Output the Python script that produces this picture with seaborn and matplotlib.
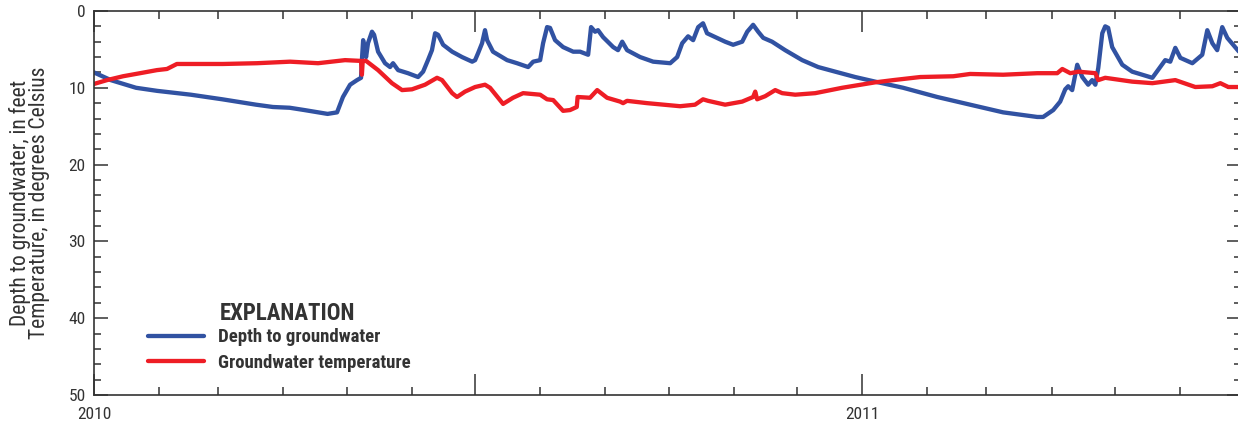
import pandas as pd
import matplotlib.pyplot as plt
import matplotlib.dates as mdates
from matplotlib.ticker import MultipleLocator, FuncFormatter
import seaborn as sns

START = pd.Timestamp("2010-01-01")

depth_day = [0, 8, 20, 30, 46, 61, 69, 77, 85, 93, 100, 111, 115.5, 118.3, 121.7,
             125, 126.9, 127.4, 127.9, 129.3, 130.2, 132.1, 133.1, 135, 138.3,
             140.7, 142.1, 144.5, 149.2, 154, 156.4, 158.7, 160.6, 162.1, 163.5,
             165.9, 170.2, 174.9, 179.7, 181.1, 182.5, 184.4, 185.8, 186.8, 189.6,
             196.3, 201, 206.3, 208.7, 212, 213.4, 215.3, 216.7, 219.1, 222.9,
             227.7, 231, 234.8, 236.2, 238.1, 239.5, 241.9, 246.7, 249, 251,
             253.3, 259.5, 265.7, 273.8, 277.1, 279.5, 282.3, 284.7, 287.1, 289.4,
             291.3, 295.2, 299.9, 303.7, 308, 310.4, 313.2, 315.6, 318, 322.2,
             328.4, 336.5, 344.1, 352.2, 361.7, 371.2, 384.5, 400.7, 416.3, 432,
             448.2, 451, 455.8, 459.1, 461.5, 462.9, 464.8, 467.2, 469.6, 472.4,
             474.3, 475.8, 477.2, 479.1, 480.5, 481.9, 483.8, 488.6, 493.3, 502.9,
             509, 511.4, 513.8, 516.2, 521.9, 526.6, 529, 531.4, 533.7, 536.1,
             538.5, 545]
depth_ft = [8.0, 9.0, 10.0, 10.4, 10.9, 11.5, 11.85, 12.2, 12.5, 12.6, 12.9, 13.4, 13.2, 11.2, 9.6,
            9.0, 8.7, 6.0, 3.8, 6.0, 4.2, 2.7, 3.1, 5.3, 6.8,
            7.3, 6.8, 7.7, 8.1, 8.6, 7.9, 6.4, 5.1, 2.9, 3.1,
            4.4, 5.3, 6.0, 6.6, 6.4, 5.5, 4.2, 2.5, 3.8, 5.3,
            6.4, 6.8, 7.3, 6.6, 6.4, 4.2, 2.1, 2.2, 3.8, 4.7,
            5.3, 5.3, 5.7, 2.1, 2.7, 2.5, 3.4, 4.7, 5.1, 4.0,
            5.1, 6.0, 6.6, 6.8, 6.0, 4.2, 3.3, 3.8, 2.1, 1.6,
            2.9, 3.4, 4.0, 4.4, 4.0, 2.7, 1.8, 2.7, 3.5, 4.0,
            5.1, 6.4, 7.3, 7.9, 8.6, 9.2, 10.0, 11.2, 12.2, 13.2,
            13.8, 13.8, 12.9, 11.8, 10.2, 9.8, 10.3, 7.0, 8.6, 9.6,
            9.0, 9.6, 7.4, 2.9, 2.0, 2.2, 4.7, 7.0, 7.9, 8.7,
            6.4, 6.6, 4.8, 6.1, 6.8, 5.7, 2.5, 4.2, 5.1, 2.1,
            3.5, 5.6]

temp_day = [0, 6.2, 13.8, 21.9, 29.9, 34.7, 39.4, 45.6, 61.3, 77.5, 93.2, 106.5,
            119.3, 126.9, 127.3, 127.7, 129.3, 135, 141.6, 146.4, 151.1, 157.3,
            163, 165.4, 170.2, 172.5, 176.3, 181.1, 185.8, 188.2, 194.4, 199.1,
            203.9, 212, 215.3, 218.2, 222.9, 226.2, 229.4, 229.8, 235.7, 239.1,
            243.8, 250, 251.4, 253.3, 262.8, 278.5, 285.6, 289.4, 291.8, 299.9,
            308, 313.2, 314.2, 315.1, 318.9, 323.7, 327, 333.2, 342.7, 355.5,
            371, 379.8, 392.6, 408.3, 416.3, 432, 448.2, 457.7, 460.1, 463.9,
            467.7, 475.8, 477.2, 480.5, 493.3, 502.9, 513.8, 523.3, 531.4, 535.2,
            539, 545]
temp_c = [9.5, 9.0, 8.5, 8.1, 7.7, 7.55, 6.9, 6.9, 6.9, 6.8, 6.6, 6.8,
          6.4, 6.5, 8.3, 6.5, 6.5, 7.7, 9.4, 10.3, 10.2, 9.6,
          8.7, 9.0, 10.7, 11.2, 10.5, 9.9, 9.6, 10.0, 12.1, 11.3,
          10.7, 10.9, 11.5, 11.6, 13.0, 12.9, 12.5, 11.2, 11.3, 10.3,
          11.3, 11.8, 12.0, 11.7, 12.0, 12.4, 12.2, 11.5, 11.7, 12.2,
          11.8, 11.2, 10.5, 11.5, 11.1, 10.3, 10.7, 10.9, 10.7, 10.0,
          9.3, 9.0, 8.6, 8.5, 8.2, 8.3, 8.1, 8.1, 7.55, 8.1,
          7.9, 8.1, 9.0, 8.7, 9.2, 9.4, 9.0, 9.9, 9.8, 9.4,
          9.9, 9.9]

SERIES_LABELS = ["Depth to groundwater", "Groundwater temperature"]
COLORS = ["#3152A2", "#EE1D25"]
INK = "#333333"

depth = pd.DataFrame({"date": START + pd.to_timedelta(depth_day, unit="D"), "value": depth_ft})
temp = pd.DataFrame({"date": START + pd.to_timedelta(temp_day, unit="D"), "value": temp_c})

sns.set_theme(style="ticks")
plt.rcParams["font.family"] = ["Roboto Condensed", "DejaVu Sans"]
plt.rcParams["text.color"] = INK

fig = plt.figure(figsize=(12.38, 4.24), dpi=100)
ax = fig.add_axes([0.0759, 0.0684, 0.9265, 0.9057])

sns.lineplot(data=depth, x="date", y="value", ax=ax, color=COLORS[0], linewidth=3.1,
             estimator=None, sort=False, label=SERIES_LABELS[0])
sns.lineplot(data=temp, x="date", y="value", ax=ax, color=COLORS[1], linewidth=3.1,
             estimator=None, sort=False, label=SERIES_LABELS[1])

# Axes limits, inverted depth axis
ax.set_xlim(pd.Timestamp("2010-01-01"), pd.Timestamp("2011-06-30"))
ax.set_ylim(50, 0)

# Ticks: months as minor, Jan/Jul as major, labels only on the years
ax.xaxis.set_major_locator(mdates.MonthLocator(bymonth=[1, 7]))
ax.xaxis.set_minor_locator(mdates.MonthLocator())
ax.xaxis.set_major_formatter(
    FuncFormatter(lambda v, p: mdates.num2date(v).strftime("%Y") if mdates.num2date(v).month == 1 else ""))

ax.yaxis.set_major_locator(MultipleLocator(10))
ax.yaxis.set_minor_locator(MultipleLocator(2))

ax.tick_params(axis="x", which="major", direction="in", length=15, width=1.1,
               top=True, bottom=True, colors=INK, labelsize=12.5, pad=8.5)
ax.tick_params(axis="x", which="minor", direction="in", length=5.5, width=1.1,
               top=True, bottom=True, colors=INK)
ax.tick_params(axis="y", which="major", direction="in", length=10, width=1.1,
               left=True, right=True, colors=INK, labelsize=12.5, pad=6)
ax.tick_params(axis="y", which="minor", direction="in", length=5, width=1.1,
               left=True, right=True, colors=INK)

for side in ["left", "right", "top", "bottom"]:
    ax.spines[side].set_visible(True)
    ax.spines[side].set_color(INK)
    ax.spines[side].set_linewidth(1.2)

ax.set_xlabel("")
ax.set_ylabel("Depth to groundwater, in feet\nTemperature, in degrees Celsius",
              fontsize=15.5, color=INK, linespacing=0.9)
ax.yaxis.set_label_coords(-0.038, 0.5)

# Explanation block
leg = ax.legend(loc="lower left", bbox_to_anchor=(0.047, 0.06), frameon=False,
                prop={"weight": "bold", "size": 13.5}, handlelength=3.0,
                handletextpad=0.75, labelspacing=0.4, borderpad=0, borderaxespad=0)
for t in leg.get_texts():
    t.set_color(INK)
ax.text(0.169, 0.1953, "EXPLANATION", transform=ax.transAxes, ha="center",
        va="baseline", fontsize=16.5, fontweight="bold", color=INK)

fig.savefig("out.png", dpi=100)
